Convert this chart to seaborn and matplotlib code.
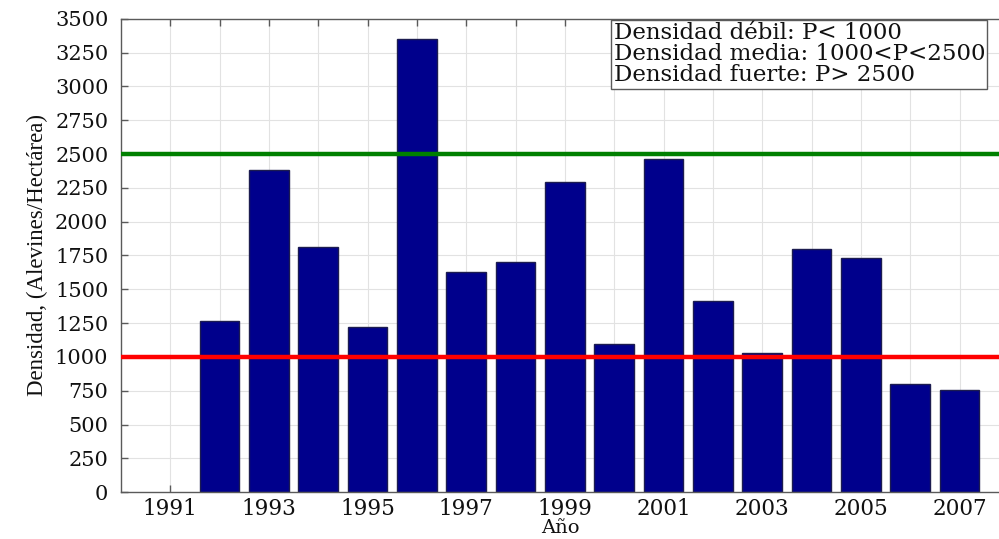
import matplotlib
matplotlib.use("Agg")
import matplotlib.pyplot as plt
import numpy as np
import pandas as pd
import seaborn as sns

# Densidad anual de alevines por hectárea
years = [1992, 1993, 1994, 1995, 1996, 1997, 1998, 1999,
         2000, 2001, 2002, 2003, 2004, 2005, 2006, 2007]
densidad = [1265, 2385, 1815, 1220, 3350, 1625, 1700, 2295,
            1095, 2465, 1415, 1030, 1795, 1735, 800, 755]

umbral_debil = 1000
umbral_fuerte = 2500

year_ticks = list(range(1991, 2008))
y_ticks = list(range(0, 3501, 250))

clases = ["Densidad débil: P< 1000",
          "Densidad media: 1000<P<2500",
          "Densidad fuerte: P> 2500"]

sns.set_theme(style="whitegrid")
plt.rcParams["font.family"] = ["DejaVu Serif"]

fig = plt.figure(figsize=(9.99, 5.39), dpi=100)
ax = fig.add_axes([0.121, 0.087, 0.879, 0.878])

df = pd.DataFrame({"Año": years, "Densidad": densidad})
sns.barplot(data=df, x="Año", y="Densidad", native_scale=True, width=0.8,
            color="#00008c", saturation=1, edgecolor="#1c1c50",
            linewidth=1.0, ax=ax, zorder=2)

ax.axhline(umbral_debil, color="#ff0000", lw=3.2, zorder=3)
ax.axhline(umbral_fuerte, color="#008000", lw=3.2, zorder=3)

ax.set_xlim(1990, 2007.8)
ax.set_ylim(0, 3500)
ax.set_xticks(year_ticks)
ax.set_xticklabels([str(y) if y % 2 else "" for y in year_ticks])
ax.set_yticks(y_ticks)
ax.set_yticklabels([str(v) for v in y_ticks])

ax.set_axisbelow(True)
ax.grid(True, color="#e2e2e2", lw=0.8)
ax.set_facecolor("white")

for side in ("left", "bottom", "top"):
    ax.spines[side].set_visible(True)
    ax.spines[side].set_color("#5a5a5a")
    ax.spines[side].set_linewidth(1.0)
ax.spines["right"].set_visible(False)

ax.tick_params(axis="x", direction="in", top=True, bottom=True, length=5,
               width=1, color="#5a5a5a", labelsize=15.5, pad=4, labelcolor="#111111")
ax.tick_params(axis="y", direction="in", left=True, right=False, length=5,
               width=1, color="#5a5a5a", labelsize=15, pad=9, labelcolor="#111111")

ax.set_xlabel("Año", fontsize=14, color="#111111", labelpad=-0.5)
ax.set_ylabel("Densidad, (Alevines/Hectárea)", fontsize=16.5,
              family=["Liberation Serif"], color="#111111", labelpad=5)

ax.text(0.561, 0.993, "\n".join(clases), transform=ax.transAxes,
        ha="left", va="top", fontsize=16.5, color="#111111", linespacing=0.95,
        zorder=5,
        bbox=dict(boxstyle="square,pad=0.1", facecolor="white",
                  edgecolor="#5a5a5a", linewidth=1.0))

fig.savefig("out.png", dpi=100)
